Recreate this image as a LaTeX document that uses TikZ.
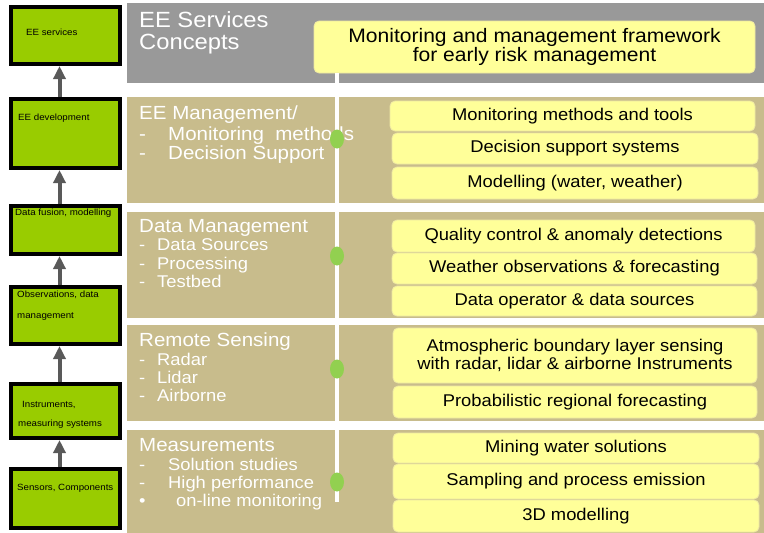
\documentclass[tikz,border=0pt]{standalone}
\usepackage{fontspec}
\setmainfont{Liberation Sans}[FakeStretch=1.08]
\usetikzlibrary{arrows.meta}
\definecolor{boxgreen}{HTML}{99CC00}
\definecolor{rowgrey}{HTML}{999999}
\definecolor{rowbeige}{HTML}{C8BC8C}
\definecolor{pale}{HTML}{FFFF99}
\definecolor{paleedge}{HTML}{EDE7A3}
\definecolor{dotgreen}{HTML}{92D050}
\definecolor{arrgrey}{HTML}{595959}
\begin{document}
\begin{tikzpicture}[x=1pt,y=-1pt,
  lbox/.style={draw=black, line width=4pt, fill=boxgreen, minimum width=109pt, inner sep=0pt},
  ltext/.style={font=\fontsize{9}{10}\selectfont, anchor=base west, inner sep=0pt},
  uparr/.style={draw=arrgrey, line width=4pt, -{Triangle[width=12pt,length=13pt]}},
  hd/.style={text=white, font=\fontsize{19}{21}\selectfont, anchor=base west, inner sep=0pt},
  hdbig/.style={text=white, font=\fontsize{22}{23}\selectfont, anchor=base west, inner sep=0pt},
  itm/.style={text=white, font=\fontsize{17}{19}\selectfont, anchor=base west, inner sep=0pt},
  itmbig/.style={text=white, font=\fontsize{19}{21}\selectfont, anchor=base west, inner sep=0pt},
  ybox/.style={rounded corners=5pt, fill=pale, draw=paleedge, line width=0.8pt,
    font=\fontsize{17}{18.5}\selectfont, align=center, inner sep=0pt},
  dot/.style={fill=dotgreen}
]
\useasboundingbox (0,0) rectangle (764,533);

% right-hand rows
\fill[rowgrey]  (127,3)   rectangle (764,83);
\fill[rowbeige] (127,97)  rectangle (764,203);
\fill[rowbeige] (127,212) rectangle (764,318);
\fill[rowbeige] (127,325) rectangle (764,421);
\fill[rowbeige] (127,430) rectangle (764,533);

% left column boxes
\node[lbox, minimum height=57pt] (b1) at (65.5,35.5) {};
\node[lbox, minimum height=69pt] (b2) at (65.5,133.5) {};
\node[lbox, minimum height=48pt] (b3) at (65.5,230) {};
\node[lbox, minimum height=57pt] (b4) at (65.5,315.5) {};
\node[lbox, minimum height=54pt] (b5) at (65.5,411) {};
\node[lbox, minimum height=59pt] (b6) at (65.5,498.5) {};

\node[ltext] (t1) at (26,35) {EE services};
\node[ltext] (t2) at (18,120) {EE development};
\node[ltext] (t3) at (15,215) {Data fusion, modelling};
\node[ltext] (t4a) at (17,297) {Observations, data};
\node[ltext] (t4b) at (17,318) {management};
\node[ltext] (t5a) at (22,407) {Instruments,};
\node[ltext] (t5b) at (18,426) {measuring systems};
\node[ltext] (t6) at (17,490) {Sensors, Components};

\draw[uparr] ([xshift=-6pt]b2.north) -- ([xshift=-6pt]b1.south);
\draw[uparr] ([xshift=-6pt]b3.north) -- ([xshift=-6pt]b2.south);
\draw[uparr] ([xshift=-6pt]b4.north) -- ([xshift=-6pt]b3.south);
\draw[uparr] ([xshift=-6pt]b5.north) -- ([xshift=-6pt]b4.south);
\draw[uparr] ([xshift=-6pt]b6.north) -- ([xshift=-6pt]b5.south);

% top row
\node[hdbig] (h0a) at (139,27) {EE Services};
\node[hdbig] (h0b) at (139,49) {Concepts};
\node[ybox, minimum width=441pt, minimum height=52pt, font=\fontsize{19.5}{19.5}\selectfont] (top) at (534.5,47)
  {Monitoring and management framework\\for early risk management};

% white spine
\coordinate (spineend) at (337,502);
\draw[white, line width=4pt] (top.south -| spineend) -- (spineend);

% row 1
\node[hd] (h1) at (139,119) {EE Management/};
\node[itmbig] (h1a) at (139,140) {\makebox[29pt][l]{-}Monitoring\ \ methods};
\node[itmbig] (h1b) at (139,159) {\makebox[29pt][l]{-}Decision Support};
\node[ybox, minimum width=365pt, minimum height=30pt] (r1a) at (572.5,116) {Monitoring methods and tools};
\node[ybox, minimum width=366pt, minimum height=31pt] (r1b) at (575,148.5) {Decision support systems};
\node[ybox, minimum width=366pt, minimum height=32pt] (r1c) at (575,183) {Modelling (water, weather)};

% row 2
\node[hd] (h2) at (139,232) {Data Management};
\node[itm] (h2a) at (139,250) {\makebox[18pt][l]{-}Data Sources};
\node[itm] (h2b) at (139,269) {\makebox[18pt][l]{-}Processing};
\node[itm] (h2c) at (139,287) {\makebox[18pt][l]{-}Testbed};
\node[ybox, minimum width=363pt, minimum height=32pt] (r2a) at (573.5,236) {Quality control \& anomaly detections};
\node[ybox, minimum width=365pt, minimum height=31pt] (r2b) at (574.5,268.5) {Weather observations \& forecasting};
\node[ybox, minimum width=365pt, minimum height=30pt] (r2c) at (574.5,301) {Data operator \& data sources};

% row 3
\node[hd] (h3) at (139,346) {Remote Sensing};
\node[itm] (h3a) at (139,365) {\makebox[18pt][l]{-}Radar};
\node[itm] (h3b) at (139,383) {\makebox[18pt][l]{-}Lidar};
\node[itm] (h3c) at (139,401) {\makebox[18pt][l]{-}Airborne};
\node[ybox, minimum width=364pt, minimum height=55pt] (r3a) at (575,355.5)
  {Atmospheric boundary layer sensing\\with radar, lidar \& airborne Instruments};
\node[ybox, minimum width=364pt, minimum height=32pt] (r3b) at (575,402) {Probabilistic regional forecasting};

% row 4
\node[hd] (h4) at (139,451) {Measurements};
\node[itm] (h4a) at (139,470) {\makebox[29pt][l]{-}Solution studies};
\node[itm] (h4b) at (139,488) {\makebox[29pt][l]{-}High performance};
\node[itm] (h4c) at (139,506) {\makebox[37pt][l]{\textbullet}on-line monitoring};
\node[ybox, minimum width=366pt, minimum height=30pt] (r4a) at (576,448) {Mining water solutions};
\node[ybox, minimum width=366pt, minimum height=35pt] (r4b) at (576,481.5) {Sampling and process emission};
\node[ybox, minimum width=366pt, minimum height=32pt] (r4c) at (576,516) {3D modelling};

% green dots on the spine
\fill[dot] (337,139) ellipse [x radius=7pt, y radius=9.5pt];
\fill[dot] (337,256) ellipse [x radius=7pt, y radius=9.5pt];
\fill[dot] (337,369) ellipse [x radius=7pt, y radius=9.5pt];
\fill[dot] (337,482) ellipse [x radius=7pt, y radius=9.5pt];
\end{tikzpicture}
\end{document}
